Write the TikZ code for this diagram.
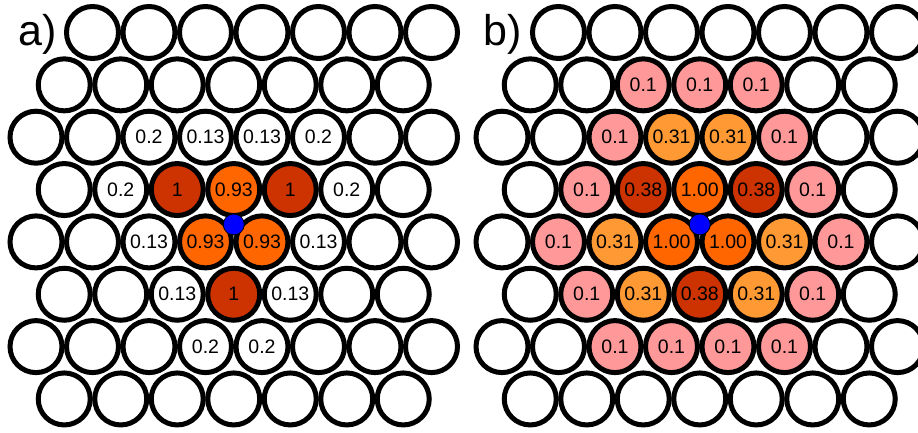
\documentclass[tikz,border=0pt]{standalone}
\usepackage{fontspec}
\setmainfont{Liberation Sans}
\definecolor{rust}{HTML}{CC3300}
\definecolor{flame}{HTML}{FF6600}
\definecolor{amber}{HTML}{FF9933}
\definecolor{rose}{HTML}{FF9999}
\tikzset{
  atom/.style={circle, draw=black, line width=5pt, minimum size=52pt, inner sep=0pt,
    font=\fontsize{19.5}{19.5}\selectfont},
  cw/.style={atom, fill=white},
  cR/.style={atom, fill=rust},
  cO/.style={atom, fill=flame},
  cL/.style={atom, fill=amber},
  cP/.style={atom, fill=rose},
  adsorbate/.style={circle, fill=blue, draw=black, line width=0.8pt,
    minimum size=21pt, inner sep=0pt},
  panellabel/.style={font=\fontsize{43}{43}\selectfont, anchor=base west, inner sep=0pt}
}
% row pitch and column pitch of the close-packed layer
\def\colpitch{56.5}
\def\rowpitch{52.35}
\def\rowzero{32.5}
\def\stripbraces#1{#1}
% one layer: #1 = node name prefix, #2 = rows as row/first-x/{style/label,...}
\newcommand\atomlayer[2]{%
  \foreach \r/\xs/\cellsraw in {#2}{%
    \edef\cells{\expandafter\stripbraces\cellsraw}%
    \pgfmathsetmacro\yy{\rowzero+\rowpitch*\r}%
    \foreach \s/\t [count=\k from 0] in \cells {%
      \pgfmathsetmacro\xx{\xs+\colpitch*\k}%
      \node[\s] (#1-\r-\k) at (\xx,\yy) {\t};%
    }%
  }%
}
\begin{document}
\begin{tikzpicture}[x=1pt, y=-1pt]
\useasboundingbox (0,0) rectangle (918,432);
\clip (0,0) rectangle (918,432);

% ---------- panel a ----------
\begin{scope}
\atomlayer{a}{
  0/92.5/{cw/{},cw/{},cw/{},cw/{},cw/{},cw/{},cw/{}},
  1/64.25/{cw/{},cw/{},cw/{},cw/{},cw/{},cw/{},cw/{}},
  2/36/{cw/{},cw/{},cw/0.2,cw/0.13,cw/0.13,cw/0.2,cw/{},cw/{}},
  3/64.25/{cw/{},cw/0.2,cR/1,cO/0.93,cR/1,cw/0.2,cw/{}},
  4/36/{cw/{},cw/{},cw/0.13,cO/0.93,cO/0.93,cw/0.13,cw/{},cw/{}},
  5/64.25/{cw/{},cw/{},cw/0.13,cR/1,cw/0.13,cw/{},cw/{}},
  6/36/{cw/{},cw/{},cw/{},cw/0.2,cw/0.2,cw/{},cw/{},cw/{}},
  7/64.25/{cw/{},cw/{},cw/{},cw/{},cw/{},cw/{},cw/{}}
}
\node[panellabel] (a-label) at (18,45) {a)};
\node[adsorbate] (a-dot) at (233.75,224.45) {};
\end{scope}

% ---------- panel b ----------
\begin{scope}[xshift=466pt]
\atomlayer{b}{
  0/92.5/{cw/{},cw/{},cw/{},cw/{},cw/{},cw/{},cw/{}},
  1/64.25/{cw/{},cw/{},cP/0.1,cP/0.1,cP/0.1,cw/{},cw/{}},
  2/36/{cw/{},cw/{},cP/0.1,cL/0.31,cL/0.31,cP/0.1,cw/{},cw/{}},
  3/64.25/{cw/{},cP/0.1,cR/0.38,cO/1.00,cR/0.38,cP/0.1,cw/{}},
  4/36/{cw/{},cP/0.1,cL/0.31,cO/1.00,cO/1.00,cL/0.31,cP/0.1,cw/{}},
  5/64.25/{cw/{},cP/0.1,cL/0.31,cR/0.38,cL/0.31,cP/0.1,cw/{}},
  6/36/{cw/{},cw/{},cP/0.1,cP/0.1,cP/0.1,cP/0.1,cw/{},cw/{}},
  7/64.25/{cw/{},cw/{},cw/{},cw/{},cw/{},cw/{},cw/{}}
}
\node[panellabel] (b-label) at (17,45) {b)};
\node[adsorbate] (b-dot) at (233.75,224.45) {};
\end{scope}
\end{tikzpicture}
\end{document}
